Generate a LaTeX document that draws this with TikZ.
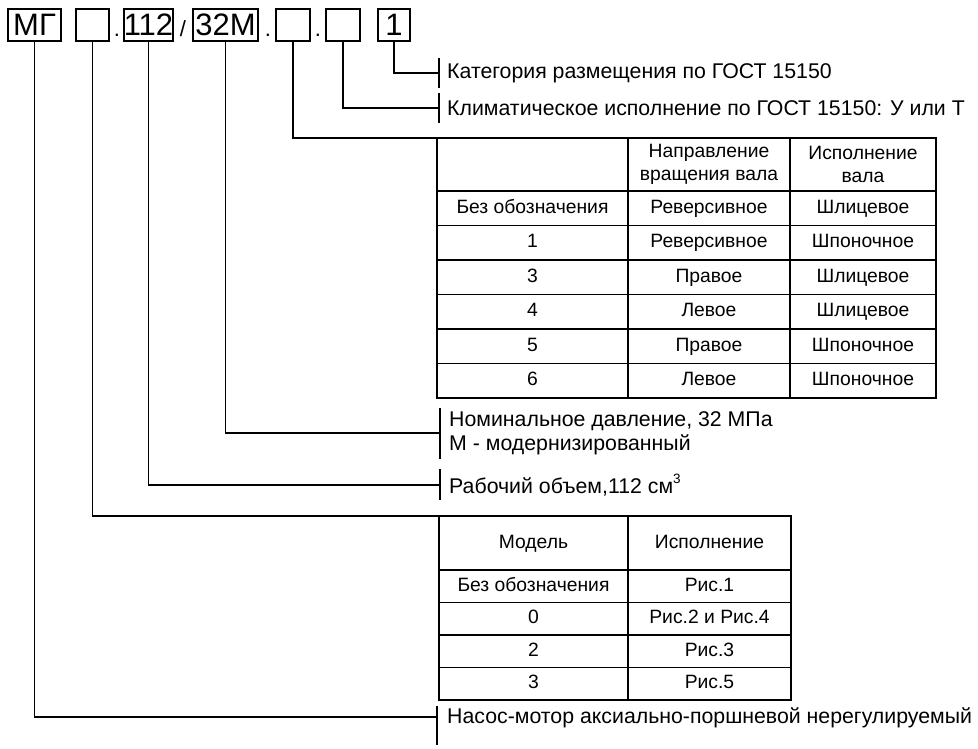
\documentclass[tikz,border=0pt]{standalone}
\usepackage{fontspec}
\setmainfont{Liberation Sans}

\tikzset{
  codebox/.style={draw, line width=1.5pt, minimum height=32pt, inner sep=0pt, font=\fontsize{31}{32}\selectfont},
  sep/.style={anchor=base, inner sep=0pt, font=\fontsize{22}{24}\selectfont},
  conn/.style={line width=1.8pt},
  grid/.style={line width=1.5pt},
  lbl/.style={anchor=west, inner sep=0pt, align=left, font=\fontsize{21.3}{24}\selectfont},
  cell/.style={inner sep=0pt, text height=14pt, text depth=4pt, font=\fontsize{19.3}{22}\selectfont},
  hcell/.style={inner sep=0pt, align=center, font=\fontsize{19.3}{23}\selectfont},
}

\begin{document}
\begin{tikzpicture}[x=1pt,y=-1pt]
\useasboundingbox (0,0) rectangle (978,749);

% designation
\node[codebox, minimum width=53pt] (mg) at (34.5,25) {МГ};
\node[codebox, minimum width=33pt] (e1) at (92.5,25) {};
\node[sep] (d1) at (117,37) {.};
\node[codebox, minimum width=49pt] (v112) at (148.5,25) {112};
\node[sep] (sl) at (183,37) {/};
\node[codebox, minimum width=65pt] (p32) at (225.5,25) {32М};
\node[sep] (d2) at (268,37) {.};
\node[codebox, minimum width=34pt] (e2) at (293,25) {};
\node[sep] (d3) at (318,37) {.};
\node[codebox, minimum width=34pt] (e3) at (343,25) {};
\node[codebox, minimum width=32pt] (c1) at (394,25) {1};

% tick points and table corners
\coordinate (tcat) at (439,73);
\coordinate (tclim) at (439,108);
\coordinate (tab1) at (437,138);
\coordinate (tpress) at (440,433);
\coordinate (tvol) at (440,485);
\coordinate (tab2) at (439,516);
\coordinate (tpump) at (437,717);

% leaders
\draw[conn] (c1) |- (tcat);
\draw[conn] (e3) |- (tclim);
\draw[conn] (e2) |- (tab1);
\draw[conn] (p32) |- (tpress);
\draw[conn] (v112) |- (tvol);
\draw[conn] (e1) |- (tab2);
\draw[conn] (mg) |- (tpump);

\draw[conn] ([yshift=15pt]tcat) -- ([yshift=-15pt]tcat);
\draw[conn] ([yshift=15pt]tclim) -- ([yshift=-15pt]tclim);
\draw[conn] ([yshift=25pt]tpress) -- ([yshift=-26pt]tpress);
\draw[conn] ([yshift=16pt]tvol) -- ([yshift=-15pt]tvol);
\draw[conn] ([yshift=11pt]tpump) -- ([yshift=-28pt]tpump);

\node[lbl] (cat) at (447,73) {Категория размещения по ГОСТ 15150};
\node[lbl] (clim) at (447,108) {Климатическое исполнение по ГОСТ 15150: У или Т};
\node[lbl] (press) at (449,433) {Номинальное давление, 32 МПа\\М - модернизированный};
\node[lbl] (vol) at (449,485) {Рабочий объем,112 см\raisebox{0.45em}{\fontsize{13.5}{13.5}\selectfont 3}};
\node[lbl] (pump) at (447,718) {Насос-мотор аксиально-поршневой нерегулируемый};

% table of shaft versions
\draw[grid] (tab1) rectangle (936,398);
\draw[grid] (628,138) -- (628,398);
\draw[grid] (790,138) -- (790,398);
\foreach \y in {191,225.5,260,294.5,329,363.5}
  \draw[grid] (437,\y) -- (936,\y);
\node[hcell] (ha) at (709,164.5) {Направление\\вращения вала};
\node[hcell] (hb) at (863,164.5) {Исполнение\\вала};
\foreach \a/\b/\c [count=\i] in {Без обозначения/Реверсивное/Шлицевое,
    1/Реверсивное/Шпоночное, 3/Правое/Шлицевое, 4/Левое/Шлицевое,
    5/Правое/Шпоночное, 6/Левое/Шпоночное} {
  \node[cell] (ta\i) at (532.5,173.75+34.5*\i) {\a};
  \node[cell] (tb\i) at (709,173.75+34.5*\i) {\b};
  \node[cell] (tc\i) at (863,173.75+34.5*\i) {\c};
}

% table of models
\draw[grid] (tab2) rectangle (791,700);
\draw[grid] (628,516) -- (628,700);
\foreach \y in {570,602.5,635,667.5}
  \draw[grid] (439,\y) -- (791,\y);
\node[cell] (hm) at (533.5,543) {Модель};
\node[cell] (hv) at (709.5,543) {Исполнение};
\foreach \a/\b [count=\i] in {Без обозначения/Рис.1, 0/Рис.2 и Рис.4,
    2/Рис.3, 3/Рис.5} {
  \node[cell] (ma\i) at (533.5,553.75+32.5*\i) {\a};
  \node[cell] (mb\i) at (709.5,553.75+32.5*\i) {\b};
}
\end{tikzpicture}
\end{document}
